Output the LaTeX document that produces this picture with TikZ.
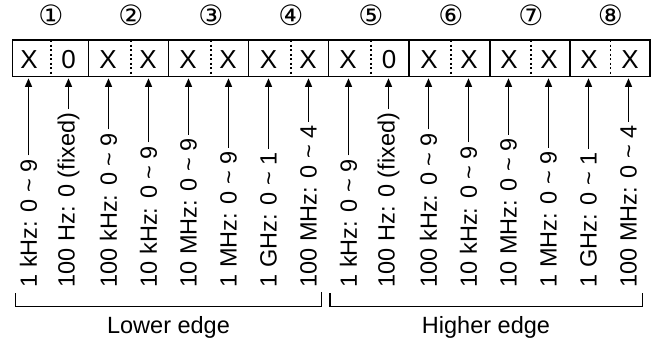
\documentclass[tikz,border=0pt]{standalone}
\usepackage{fontspec}
\setmainfont{Liberation Sans}
\newfontfamily\circfont{DejaVu Sans}
\usetikzlibrary{arrows.meta}
\tikzset{
  lab/.style={rotate=90, anchor=west, inner sep=0pt, font=\fontsize{23.5}{28}\selectfont},
  dig/.style={inner sep=0pt, font=\fontsize{26}{28}\selectfont},
  num/.style={inner sep=0pt, font=\circfont\fontsize{28}{30}\selectfont},
  txt/.style={inner sep=0pt, anchor=base, font=\fontsize{23.5}{28}\selectfont},
  arr/.style={-{Triangle[length=8.5pt,width=7pt]}, shorten <=3pt, shorten >=1pt},
  half/.style={dash pattern=on 2pt off 2.5pt},
}
\begin{document}
\begin{tikzpicture}[x=1pt,y=-1pt,line width=1.3pt]
\useasboundingbox (0,0) rectangle (653,343);
%register
\node[draw, inner sep=0pt, minimum width=637.3pt, minimum height=36.7pt] (reg) at (331.35,58.35) {};
\draw (88.5,40) -- (88.5,76.7);
\draw (168.5,40) -- (168.5,76.7);
\draw (248.5,40) -- (248.5,76.7);
\draw (328.5,40) -- (328.5,76.7);
\draw (409,40) -- (409,76.7);
\draw (490,40) -- (490,76.7);
\draw (570,40) -- (570,76.7);
\draw[half] (51,40) -- (51,76.7);
\draw[half] (131,40) -- (131,76.7);
\draw[half] (211,40) -- (211,76.7);
\draw[half] (291,40) -- (291,76.7);
\draw[half] (371,40) -- (371,76.7);
\draw[half] (451,40) -- (451,76.7);
\draw[half] (531,40) -- (531,76.7);
\draw[half] (610.5,40) -- (610.5,76.7);

\node[num] (n1) at (51,15) {①};
\node[num] (n2) at (131,15) {②};
\node[num] (n3) at (211,15) {③};
\node[num] (n4) at (291,15) {④};
\node[num] (n5) at (371,15) {⑤};
\node[num] (n6) at (451,15) {⑥};
\node[num] (n7) at (531,15) {⑦};
\node[num] (n8) at (610.5,15) {⑧};

\node[dig] (d1) at (29,59.5) {X};
\node[dig] (d2) at (68.5,59.5) {0};
\node[dig] (d3) at (108,59.5) {X};
\node[dig] (d4) at (148,59.5) {X};
\node[dig] (d5) at (188,59.5) {X};
\node[dig] (d6) at (228,59.5) {X};
\node[dig] (d7) at (268.5,59.5) {X};
\node[dig] (d8) at (308,59.5) {X};
\node[dig] (d9) at (348,59.5) {X};
\node[dig] (d10) at (389,59.5) {0};
\node[dig] (d11) at (429,59.5) {X};
\node[dig] (d12) at (469,59.5) {X};
\node[dig] (d13) at (509,59.5) {X};
\node[dig] (d14) at (549,59.5) {X};
\node[dig] (d15) at (589,59.5) {X};
\node[dig] (d16) at (630,59.5) {X};

%digit labels
\node[lab] (l1) at (28.5,288) {1 kHz: 0 \textasciitilde{} 9};
\node[lab] (l2) at (68.5,288) {100 Hz: 0 (fixed)};
\node[lab] (l3) at (108.5,288) {100 kHz: 0 \textasciitilde{} 9};
\node[lab] (l4) at (148.5,288) {10 kHz: 0 \textasciitilde{} 9};
\node[lab] (l5) at (188.5,288) {10 MHz: 0 \textasciitilde{} 9};
\node[lab] (l6) at (228.5,288) {1 MHz: 0 \textasciitilde{} 9};
\node[lab] (l7) at (268.5,288) {1 GHz: 0 \textasciitilde{} 1};
\node[lab] (l8) at (308.5,288) {100 MHz: 0 \textasciitilde{} 4};
\node[lab] (l9) at (348.5,288) {1 kHz: 0 \textasciitilde{} 9};
\node[lab] (l10) at (388.5,288) {100 Hz: 0 (fixed)};
\node[lab] (l11) at (428.5,288) {100 kHz: 0 \textasciitilde{} 9};
\node[lab] (l12) at (468.5,288) {10 kHz: 0 \textasciitilde{} 9};
\node[lab] (l13) at (508.5,288) {10 MHz: 0 \textasciitilde{} 9};
\node[lab] (l14) at (548.5,288) {1 MHz: 0 \textasciitilde{} 9};
\node[lab] (l15) at (588.5,288) {1 GHz: 0 \textasciitilde{} 1};
\node[lab] (l16) at (628.5,288) {100 MHz: 0 \textasciitilde{} 4};

\draw[arr] (l1.east) -- (l1.east |- reg.south);
\draw[arr] (l2.east) -- (l2.east |- reg.south);
\draw[arr] (l3.east) -- (l3.east |- reg.south);
\draw[arr] (l4.east) -- (l4.east |- reg.south);
\draw[arr] (l5.east) -- (l5.east |- reg.south);
\draw[arr] (l6.east) -- (l6.east |- reg.south);
\draw[arr] (l7.east) -- (l7.east |- reg.south);
\draw[arr] (l8.east) -- (l8.east |- reg.south);
\draw[arr] (l9.east) -- (l9.east |- reg.south);
\draw[arr] (l10.east) -- (l10.east |- reg.south);
\draw[arr] (l11.east) -- (l11.east |- reg.south);
\draw[arr] (l12.east) -- (l12.east |- reg.south);
\draw[arr] (l13.east) -- (l13.east |- reg.south);
\draw[arr] (l14.east) -- (l14.east |- reg.south);
\draw[arr] (l15.east) -- (l15.east |- reg.south);
\draw[arr] (l16.east) -- (l16.east |- reg.south);

%edges
\draw (15.7,293) -- (15.7,306.7) -- (321.7,306.7) -- (321.7,292);
\draw (330,293) -- (330,306.7) -- (642.3,306.7) -- (642.3,293);
\node[txt] (low) at (168.5,333) {Lower edge};
\node[txt] (high) at (486,333) {Higher edge};
\end{tikzpicture}
\end{document}
